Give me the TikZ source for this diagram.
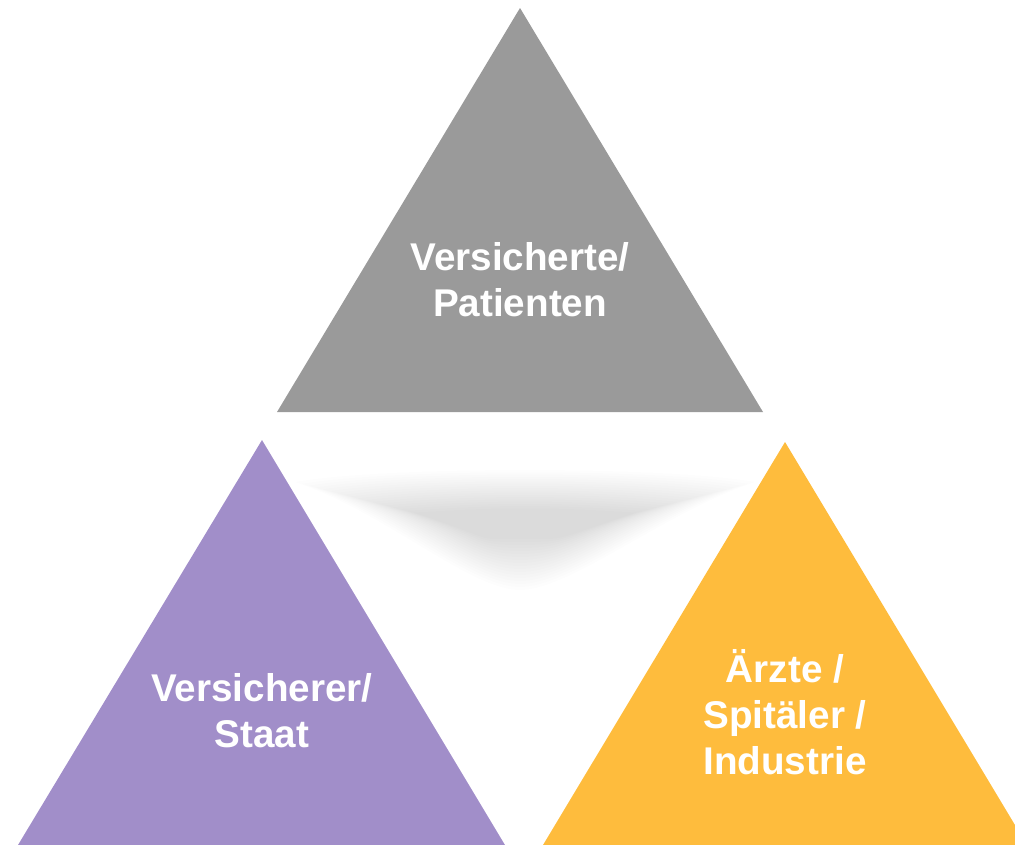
\documentclass[tikz,border=0pt]{standalone}
\usepackage{fontspec}
\setmainfont{Liberation Sans}
\usetikzlibrary{positioning,calc}

\definecolor{grau}{HTML}{9A9A9A}
\definecolor{lila}{HTML}{A18EC9}
\definecolor{gelb}{HTML}{FEBC3D}

\begin{document}
\begin{tikzpicture}[x=0.02cm, y=-0.02cm]
  \tikzstyle{label}=[text=white, font=\fontsize{22}{26}\selectfont\bfseries, align=center, inner sep=0pt]
  \tikzstyle{schatten}=[fill=black, fill opacity=0.0095, draw=none]

  \clip (0,0) rectangle (1015,845);

  % Schatten unter dem oberen Dreieck
  \foreach \k in {0,...,17}{
    \pgfmathsetmacro{\xl}{295+7*\k}
    \pgfmathsetmacro{\xr}{755-7*\k}
    \pgfmathsetmacro{\yt}{466+2.4*\k}
    \pgfmathsetmacro{\ym}{482+1.8*\k}
    \pgfmathsetmacro{\yb}{590-3*\k}
    \fill[schatten] (\xl,\ym) .. controls (\xl+90,\yt) and (\xr-90,\yt) .. (\xr,\ym)
      .. controls (\xr-90,\ym+30) and (570,\yb) .. (520,\yb)
      .. controls (470,\yb) and (\xl+90,\ym+30) .. cycle;
  }

  % Dreiecke
  \fill[grau] (520,8) -- (763,412) -- (277,412) -- cycle;
  \fill[lila] (262,440) -- (505,845) -- (18,845) -- cycle;
  \fill[gelb] (785,442) -- (1027,845) -- (543,845) -- cycle;

  % Beschriftungen
  \node[label] (versicherte) at (520,280) {Versicherte/\\Patienten};
  \node[label] (versicherer) at (262,711) {Versicherer/\\Staat};
  \node[label] (aerzte) at (785,712) {Ärzte /\\Spitäler /\\Industrie};
\end{tikzpicture}
\end{document}
